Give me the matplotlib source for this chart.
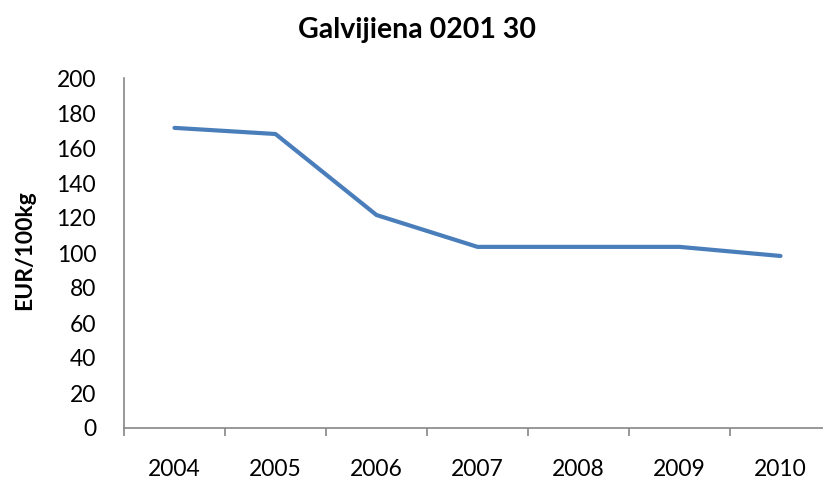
import matplotlib
matplotlib.use("Agg")
import matplotlib.pyplot as plt

years = ["2004", "2005", "2006", "2007", "2008", "2009", "2010"]
prices = [171.5, 168.0, 121.7, 103.5, 103.5, 103.5, 98.3]
title = "Galvijiena 0201 30"
ylabel = "EUR/100kg"

plt.rcParams['font.family'] = ['Lato', 'DejaVu Sans']

fig = plt.figure(figsize=(8.23, 4.8), dpi=100)
ax = fig.add_axes([124/823, 52/480, 707/823, 350/480])
x = list(range(len(years)))
ax.plot(x, prices, color="#4A7EBB", linewidth=3.0, solid_capstyle="round", solid_joinstyle="round")
ax.set_xlim(-0.5, len(years) - 0.5)
ax.set_ylim(0, 200)
ax.set_yticks(range(0, 201, 20))
ax.set_xticks(x)
ax.set_xticklabels(years)
ax.set_xticks([i - 0.5 for i in range(len(years) + 1)], minor=True)
ax.tick_params(axis='x', which='major', length=0, pad=22, labelsize=16.5)
ax.tick_params(axis='x', which='minor', length=6, width=1.2, color="#868686")
ax.tick_params(axis='y', length=0, pad=20, labelsize=16.5)
for s in ["top", "right"]:
    ax.spines[s].set_visible(False)
for s in ["left", "bottom"]:
    ax.spines[s].set_color("#868686")
    ax.spines[s].set_linewidth(1.2)
for lbl in ax.get_yticklabels():
    lbl.set_horizontalalignment('right')
fig.text(417/823, 1 - 30/480, title, ha="center", va="center", fontsize=20.5, fontweight="bold")
fig.text(25/823, 1 - 250/480, ylabel, ha="center", va="center", rotation=90, fontsize=16.5, fontweight="bold")
fig.savefig("out.png", dpi=100)
